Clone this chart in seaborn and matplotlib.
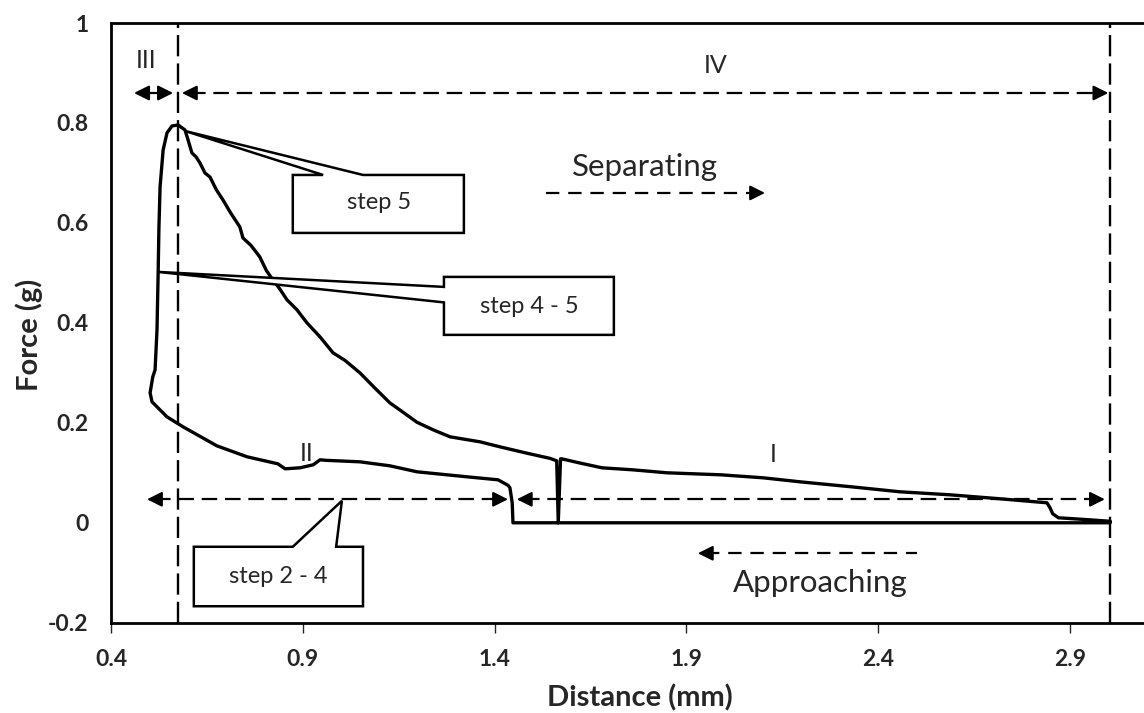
import matplotlib.pyplot as plt
import seaborn as sns
import pandas as pd
from matplotlib.patches import Polygon

# Rama de aproximacion (de derecha a izquierda)
approach_x = [3.005, 1.448, 1.446, 1.440, 1.435, 1.409, 1.328, 1.198, 1.127, 1.049,
              0.960, 0.945, 0.927, 0.893, 0.854, 0.835, 0.755, 0.676, 0.588, 0.546,
              0.507, 0.502, 0.509, 0.515, 0.520, 0.523, 0.525, 0.528, 0.536, 0.546,
              0.559, 0.575]
approach_y = [0.000, 0.000, 0.040, 0.070, 0.075, 0.086, 0.092, 0.102, 0.114, 0.122,
              0.125, 0.126, 0.116, 0.110, 0.108, 0.118, 0.132, 0.154, 0.192, 0.212,
              0.242, 0.260, 0.292, 0.306, 0.386, 0.500, 0.590, 0.672, 0.746, 0.780,
              0.794, 0.796]

# Rama de separacion (de izquierda a derecha)
separate_x = [0.593, 0.601, 0.611, 0.622, 0.632, 0.645, 0.658, 0.675, 0.692, 0.712,
              0.736, 0.744, 0.765, 0.788, 0.805, 0.822, 0.840, 0.859, 0.885, 0.911,
              0.945, 0.979, 1.010, 1.049, 1.090, 1.127, 1.160, 1.198, 1.240, 1.284,
              1.362, 1.414, 1.480, 1.544, 1.562, 1.566, 1.572, 1.575, 1.620, 1.680,
              1.760, 1.850, 1.990, 2.100, 2.196, 2.330, 2.457, 2.587, 2.718, 2.840,
              2.848, 2.855, 2.870, 2.950, 3.005]
separate_y = [0.786, 0.766, 0.740, 0.732, 0.720, 0.700, 0.692, 0.666, 0.646, 0.620,
              0.592, 0.570, 0.555, 0.532, 0.505, 0.486, 0.468, 0.446, 0.426, 0.400,
              0.372, 0.340, 0.325, 0.300, 0.268, 0.240, 0.222, 0.201, 0.186, 0.172,
              0.162, 0.152, 0.140, 0.129, 0.124, 0.000, 0.128, 0.128, 0.120, 0.110,
              0.106, 0.100, 0.096, 0.090, 0.082, 0.072, 0.062, 0.056, 0.048, 0.040,
              0.030, 0.018, 0.010, 0.006, 0.003]

x_ticks = [0.4, 0.9, 1.4, 1.9, 2.4, 2.9]
x_tick_labels = ['0.4', '0.9', '1.4', '1.9', '2.4', '2.9']
y_ticks = [-0.2, 0, 0.2, 0.4, 0.6, 0.8, 1]
y_tick_labels = ['-0.2', '0', '0.2', '0.4', '0.6', '0.8', '1']

sns.set_style('white')
plt.rcParams['font.family'] = ['Lato', 'DejaVu Sans']

data = pd.DataFrame({
    'Distance': approach_x + separate_x,
    'Force': approach_y + separate_y,
})

fig = plt.figure(figsize=(11.44, 7.13), dpi=100)
ax = fig.add_axes([0.0970, 0.1266, 0.9030, 0.8411])

sns.lineplot(data=data, x='Distance', y='Force', sort=False, estimator=None,
             color='black', linewidth=2.4, ax=ax, zorder=3)

# Lineas verticales discontinuas
ax.axvline(0.575, color='black', lw=1.7, dashes=(9, 3), zorder=2)
ax.axvline(3.005, color='black', lw=1.7, dashes=(9, 3), zorder=2)


def arrow_head(x_tip, x_from, y):
    ax.annotate('', xy=(x_tip, y), xytext=(x_from, y),
                arrowprops=dict(arrowstyle='-|>,head_length=0.9,head_width=0.45',
                                color='black', lw=1.5, shrinkA=0, shrinkB=0),
                zorder=4)


def dashed_arrow(x0, x1, y, left=True, right=True, dashes=(7, 3.5)):
    ax.plot([x0 + 0.02, x1 - 0.02], [y, y], color='black', lw=1.6,
            dashes=dashes, zorder=2)
    if left:
        arrow_head(x0, x0 + 0.04, y)
    if right:
        arrow_head(x1, x1 - 0.04, y)


# Regiones I - IV
ax.annotate('', xy=(0.46, 0.86), xytext=(0.562, 0.86),
            arrowprops=dict(arrowstyle='<|-|>,head_length=0.9,head_width=0.45',
                            color='black', lw=1.6, shrinkA=0, shrinkB=0))
dashed_arrow(0.585, 3.0, 0.86)
dashed_arrow(0.494, 1.435, 0.047)
dashed_arrow(1.458, 2.991, 0.047)

ax.text(0.491, 0.925, 'III', fontsize=18, ha='center', va='center')
ax.text(1.975, 0.915, 'IV', fontsize=18, ha='center', va='center')
ax.text(0.911, 0.139, 'II', fontsize=18, ha='center', va='center')
ax.text(2.126, 0.136, 'I', fontsize=18, ha='center', va='center')

# Direcciones
ax.text(1.792, 0.711, 'Separating', fontsize=22.5, ha='center', va='center')
dashed_arrow(1.513, 2.105, 0.66, left=False, dashes=(6, 4))
ax.text(2.248, -0.121, 'Approaching', fontsize=22.5, ha='center', va='center')
dashed_arrow(1.930, 2.522, -0.061, right=False, dashes=(6, 4))

# Cajas de llamada
callouts = [
    ('step 5', (1.099, 0.640),
     [(0.874, 0.580), (0.874, 0.696), (0.953, 0.696), (0.593, 0.784),
      (1.057, 0.696), (1.320, 0.696), (1.320, 0.580)]),
    ('step 4 - 5', (1.490, 0.432),
     [(1.268, 0.376), (1.268, 0.441), (0.523, 0.502), (1.268, 0.472),
      (1.268, 0.492), (1.711, 0.492), (1.711, 0.376)]),
    ('step 2 - 4', (0.837, -0.107),
     [(0.616, -0.167), (0.616, -0.048), (0.874, -0.048), (1.002, 0.044),
      (0.987, -0.048), (1.057, -0.048), (1.057, -0.167)]),
]
for label, (tx, ty), pts in callouts:
    ax.add_patch(Polygon(pts, closed=True, facecolor='white', edgecolor='black',
                         lw=1.8, zorder=5))
    ax.text(tx, ty, label, fontsize=17, ha='center', va='center', zorder=6)

ax.set_xlim(0.4, 3.093)
ax.set_ylim(-0.2, 1)
ax.set_xticks(x_ticks)
ax.set_xticklabels(x_tick_labels, fontsize=16.5, fontweight='bold')
ax.set_yticks(y_ticks)
ax.set_yticklabels(y_tick_labels, fontsize=16.5, fontweight='bold')
ax.tick_params(axis='x', direction='out', length=7, width=1, pad=12, bottom=True)
ax.tick_params(axis='y', length=0, pad=16)

for side in ['left', 'top', 'bottom']:
    ax.spines[side].set_linewidth(2)
    ax.spines[side].set_color('black')
ax.spines['right'].set_visible(False)

ax.set_xlabel('Distance (mm)', fontsize=21, fontweight='bold')
ax.set_ylabel('Force (g)', fontsize=21, fontweight='bold')
ax.xaxis.set_label_coords(0.512, -0.102)
ax.yaxis.set_label_coords(-0.066, 0.48)

plt.savefig('out.png', dpi=100)
plt.close()
